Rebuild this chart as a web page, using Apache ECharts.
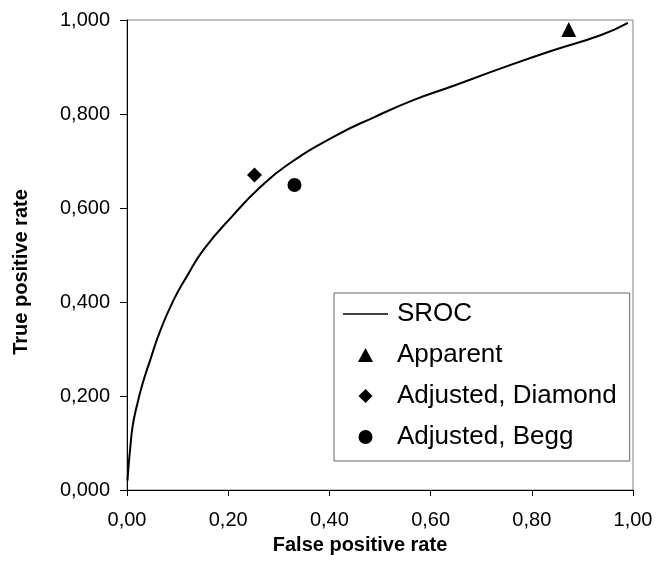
<!DOCTYPE html>
<html>
<head>
<meta charset="utf-8">
<title>SROC</title>
<script src="https://cdn.jsdelivr.net/npm/echarts@6/dist/echarts.min.js"></script>
<style>
  html, body { margin: 0; padding: 0; background: #fff; }
  #chart { width: 657px; height: 562px; }
</style>
</head>
<body>
<div id="chart"></div>
<script>
// Summary ROC curve: [false positive rate, true positive rate]
const srocCurve = [
  [0.001, 0.020], [0.003, 0.050], [0.006, 0.085], [0.011, 0.135],
  [0.019, 0.177], [0.031, 0.227], [0.046, 0.277], [0.065, 0.337],
  [0.092, 0.404], [0.118, 0.454], [0.151, 0.511], [0.210, 0.585],
  [0.263, 0.644], [0.316, 0.691], [0.409, 0.752], [0.488, 0.793],
  [0.567, 0.830], [0.640, 0.858], [0.739, 0.897], [0.838, 0.934],
  [0.937, 0.968], [0.990, 0.994]
];

// Single operating points
const apparent = [[0.873, 0.980]];
const adjustedDiamond = [[0.252, 0.670]];
const adjustedBegg = [[0.331, 0.649]];

// Tick labels (decimal comma)
const xTickLabels = ['0,00', '0,20', '0,40', '0,60', '0,80', '1,00'];
const yTickLabels = ['0,000', '0,200', '0,400', '0,600', '0,800', '1,000'];

const FONT = '"Liberation Sans", Arial, sans-serif';

// Legend icons: thin rule for the curve, square-proportioned marker shapes
const ICON_LINE = 'path://M0,0 L45,0 L45,1.6 L0,1.6 Z';
const ICON_TRIANGLE = 'path://M7,0 L14,13 L0,13 Z';
const ICON_DIAMOND = 'path://M6,0 L12,6 L6,12 L0,6 Z';

const chart = echarts.init(document.getElementById('chart'), null, { renderer: 'canvas' });

chart.setOption({
  animation: false,
  backgroundColor: '#fff',
  grid: {
    left: 127, right: 24, top: 20, bottom: 72,
    show: true, borderColor: '#808080', borderWidth: 1, backgroundColor: 'transparent'
  },
  xAxis: {
    type: 'value', min: 0, max: 1, interval: 0.2,
    name: 'False positive rate', nameLocation: 'middle', nameGap: 45,
    nameTextStyle: { fontFamily: FONT, fontSize: 20, fontWeight: 'bold', color: '#000', padding: [0, 40, 0, 0] },
    axisLine: { show: true, onZero: false, lineStyle: { color: '#000', width: 1 } },
    axisTick: { show: true, inside: false, length: 6, lineStyle: { color: '#000' } },
    axisLabel: {
      margin: 20, fontFamily: FONT, fontSize: 20, color: '#000',
      formatter: (v, i) => xTickLabels[i]
    },
    splitLine: { show: false }
  },
  yAxis: {
    type: 'value', min: 0, max: 1, interval: 0.2,
    name: 'True positive rate', nameLocation: 'middle', nameGap: 96,
    nameTextStyle: { fontFamily: FONT, fontSize: 20, fontWeight: 'bold', color: '#000', padding: [0, 34, 0, 0] },
    axisLine: { show: true, onZero: false, lineStyle: { color: '#000', width: 1 } },
    axisTick: { show: true, inside: false, length: 7, lineStyle: { color: '#000' } },
    axisLabel: {
      margin: 17, fontFamily: FONT, fontSize: 20, color: '#000',
      formatter: (v, i) => yTickLabels[i]
    },
    splitLine: { show: false }
  },
  legend: {
    orient: 'vertical',
    left: 334, top: 293,
    padding: [8, 13, 11, 9],
    itemWidth: 45, itemHeight: 14, itemGap: 15,
    symbolKeepAspect: true,
    backgroundColor: '#fff',
    borderColor: '#666', borderWidth: 1, borderRadius: 0,
    textStyle: { fontFamily: FONT, fontSize: 26, color: '#000', padding: [0, 0, 0, 4] },
    data: [
      { name: 'SROC', icon: ICON_LINE, itemStyle: { color: '#000', opacity: 1 } },
      { name: 'Apparent', icon: ICON_TRIANGLE, itemStyle: { color: '#000', opacity: 1 } },
      { name: 'Adjusted, Diamond', icon: ICON_DIAMOND, itemStyle: { color: '#000', opacity: 1 } },
      { name: 'Adjusted, Begg', icon: 'circle', itemStyle: { color: '#000', opacity: 1 } }
    ]
  },
  series: [
    {
      name: 'SROC', type: 'line', data: srocCurve,
      smooth: 0.5, showSymbol: false, symbol: 'none',
      lineStyle: { color: '#000', width: 2 },
      itemStyle: { color: '#000' },
      z: 2
    },
    {
      name: 'Apparent', type: 'scatter', data: apparent,
      symbol: 'triangle', symbolSize: 15,
      itemStyle: { color: '#000', opacity: 1 }, z: 3
    },
    {
      name: 'Adjusted, Diamond', type: 'scatter', data: adjustedDiamond,
      symbol: 'diamond', symbolSize: 15,
      itemStyle: { color: '#000', opacity: 1 }, z: 3
    },
    {
      name: 'Adjusted, Begg', type: 'scatter', data: adjustedBegg,
      symbol: 'circle', symbolSize: 14,
      itemStyle: { color: '#000', opacity: 1 }, z: 3
    }
  ]
});
</script>
</body>
</html>
